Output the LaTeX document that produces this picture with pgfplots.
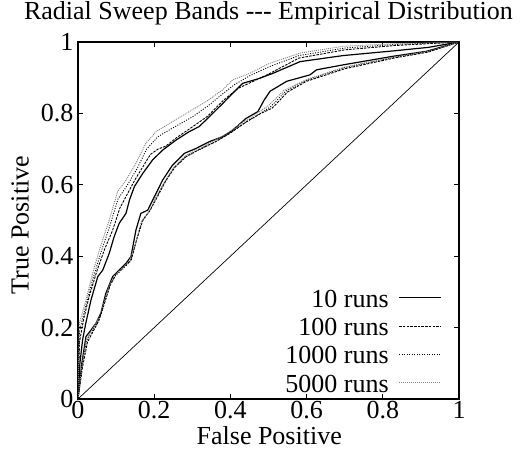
\documentclass[border=0pt]{standalone}
\usepackage{fontspec}
\setmainfont{Liberation Serif}
\usepackage{pgfplots}
\pgfplotsset{compat=1.18}
\newcommand{\fs}{\fontsize{26}{30}\selectfont}
\begin{document}
\begin{tikzpicture}[font=\fs]
\begin{axis}[name=ax,
  scale only axis, width=381pt, height=357pt,
  xmin=0, xmax=1, ymin=0, ymax=1,
  xtick={0,0.2,0.4,0.6,0.8,1}, ytick={0,0.2,0.4,0.6,0.8,1},
  /pgf/number format/assume math mode=true,
  tick align=inside, major tick length=5pt,
  tick style={line width=0.8pt, black},
  axis line style={line width=1.2pt},
  tick label style={font=\fs},
  xticklabel style={yshift=1pt},
  yticklabel style={xshift=-1pt},
  title={Radial Sweep Bands {-}{-}{-} Empirical Distribution},
  title style={font=\fs, at={(axis description cs:0.5,1.045)}, anchor=base, inner sep=0pt},
  xlabel={False Positive},
  xlabel style={font=\fs, at={(axis description cs:0.502,-0.102)}, anchor=center},
  ylabel={True Positive},
  ylabel style={font=\fs, at={(axis description cs:-0.152,0.487)}, anchor=center},
  legend style={font=\fs, draw=none, fill=none, inner sep=0pt, outer sep=0pt,
    at={(axis cs:0.955,0.005)}, anchor=south east,
    cells={anchor=east},
    nodes={inner sep=2pt, text height=18pt, text depth=3pt},
    row sep=3.3pt, column sep=8pt},
  legend plot pos=right,
  legend image code/.code={\draw[#1] (0pt,2pt) -- (42pt,2pt);},
]
% upper bands
\addplot[black, line width=1.2pt] coordinates {(0,0) (0.005,0.10) (0.012,0.165) (0.02,0.21) (0.034,0.277) (0.052,0.343) (0.065,0.361) (0.082,0.408) (0.095,0.455) (0.108,0.492) (0.126,0.52) (0.135,0.557) (0.148,0.595) (0.17,0.632) (0.196,0.67) (0.222,0.697) (0.257,0.725) (0.292,0.749) (0.318,0.763) (0.345,0.791) (0.38,0.828) (0.415,0.866) (0.432,0.884) (0.476,0.898) (0.511,0.912) (0.583,0.945) (0.696,0.962) (0.827,0.975) (0.92,0.985) (1,1)};
\addlegendentry{10 runs}
\addplot[black, line width=0.9pt, dash pattern=on 2.5pt off 1.2pt] coordinates {(0,0) (0.004,0.16) (0.015,0.225) (0.03,0.29) (0.05,0.36) (0.07,0.42) (0.09,0.47) (0.11,0.535) (0.13,0.575) (0.15,0.615) (0.17,0.65) (0.19,0.685) (0.21,0.70) (0.23,0.708) (0.26,0.733) (0.30,0.762) (0.34,0.792) (0.38,0.835) (0.42,0.87) (0.46,0.89) (0.50,0.91) (0.58,0.955) (0.70,0.978) (0.83,0.99) (1,1)};
\addlegendentry{100 runs}
\addplot[black, line width=0.9pt, dash pattern=on 1pt off 1.5pt] coordinates {(0,0) (0.004,0.19) (0.02,0.26) (0.04,0.34) (0.06,0.41) (0.085,0.49) (0.105,0.56) (0.13,0.60) (0.155,0.645) (0.18,0.70) (0.21,0.735) (0.25,0.76) (0.30,0.79) (0.34,0.82) (0.38,0.855) (0.41,0.88) (0.45,0.905) (0.50,0.93) (0.58,0.962) (0.70,0.983) (0.83,0.993) (1,1)};
\addlegendentry{1000 runs}
\addplot[black!50, line width=0.9pt, dash pattern=on 1pt off 1pt] coordinates {(0,0) (0.0035,0.212) (0.021,0.277) (0.0385,0.352) (0.056,0.417) (0.082,0.501) (0.104,0.581) (0.126,0.613) (0.152,0.66) (0.178,0.716) (0.205,0.749) (0.24,0.772) (0.292,0.805) (0.336,0.833) (0.38,0.866) (0.406,0.894) (0.45,0.912) (0.502,0.94) (0.583,0.969) (0.696,0.988) (0.827,0.995) (1,1)};
\addlegendentry{5000 runs}
% lower bands
\addplot[black, line width=1.2pt, forget plot] coordinates {(0,0) (0.01,0.10) (0.021,0.175) (0.034,0.193) (0.047,0.212) (0.06,0.24) (0.073,0.296) (0.091,0.343) (0.108,0.361) (0.126,0.38) (0.139,0.399) (0.152,0.473) (0.165,0.52) (0.183,0.529) (0.205,0.576) (0.222,0.613) (0.248,0.655) (0.279,0.688) (0.31,0.702) (0.345,0.721) (0.38,0.735) (0.406,0.753) (0.441,0.786) (0.472,0.805) (0.489,0.838) (0.504,0.862) (0.548,0.89) (0.609,0.908) (0.626,0.922) (0.696,0.936) (0.827,0.96) (0.915,0.974) (1,1)};
\addplot[black, line width=0.9pt, dash pattern=on 2.5pt off 1.2pt, forget plot] coordinates {(0,0) (0.012,0.09) (0.025,0.16) (0.04,0.19) (0.055,0.22) (0.07,0.27) (0.085,0.32) (0.10,0.35) (0.12,0.37) (0.14,0.39) (0.155,0.45) (0.17,0.50) (0.19,0.53) (0.21,0.57) (0.23,0.61) (0.255,0.65) (0.285,0.68) (0.32,0.70) (0.36,0.72) (0.40,0.745) (0.44,0.775) (0.48,0.80) (0.51,0.815) (0.55,0.86) (0.60,0.89) (0.70,0.925) (0.83,0.955) (0.92,0.972) (1,1)};
\addplot[black, line width=0.9pt, dash pattern=on 1pt off 1.5pt, forget plot] coordinates {(0,0) (0.011,0.095) (0.023,0.165) (0.037,0.19) (0.052,0.215) (0.067,0.26) (0.082,0.315) (0.098,0.345) (0.118,0.365) (0.137,0.385) (0.152,0.44) (0.168,0.50) (0.187,0.525) (0.207,0.568) (0.227,0.607) (0.252,0.648) (0.282,0.678) (0.318,0.698) (0.355,0.718) (0.395,0.742) (0.435,0.772) (0.475,0.798) (0.505,0.818) (0.545,0.862) (0.60,0.893) (0.70,0.928) (0.83,0.957) (0.92,0.973) (1,1)};
\addplot[black!50, line width=0.9pt, dash pattern=on 1pt off 1pt, forget plot] coordinates {(0,0) (0.011,0.1) (0.022,0.17) (0.036,0.192) (0.05,0.218) (0.064,0.255) (0.079,0.31) (0.095,0.345) (0.115,0.366) (0.134,0.386) (0.15,0.43) (0.166,0.495) (0.185,0.524) (0.206,0.566) (0.226,0.606) (0.25,0.647) (0.28,0.68) (0.315,0.7) (0.352,0.72) (0.392,0.744) (0.43,0.774) (0.47,0.8) (0.5,0.822) (0.54,0.864) (0.6,0.895) (0.7,0.93) (0.83,0.958) (0.92,0.974) (1,1)};
% diagonal
\addplot[black, line width=0.7pt, forget plot] coordinates {(0,0) (1,1)};
\end{axis}
\path ([xshift=-78pt,yshift=-50pt]ax.south west) rectangle ([xshift=62pt,yshift=42pt]ax.north east);
\end{tikzpicture}
\end{document}
